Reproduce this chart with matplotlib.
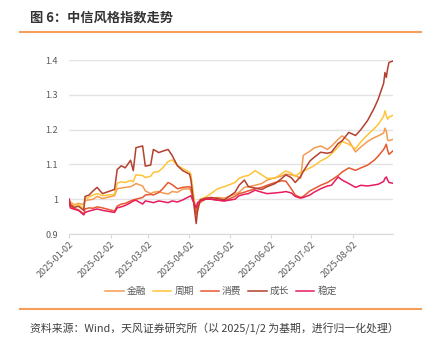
import matplotlib
matplotlib.use('Agg')
import matplotlib.pyplot as plt
import matplotlib.dates as mdates
from matplotlib.lines import Line2D
import pandas as pd

plt.rcParams['font.family'] = ['Noto Sans CJK SC', 'DejaVu Sans']

# ── data (normalised to 2025-01-02 = 1) ──────────────────────────────────────
DATES = [
    '2025-01-02', '2025-01-03', '2025-01-06', '2025-01-09', '2025-01-13',
    '2025-01-14', '2025-01-17', '2025-01-20', '2025-01-23', '2025-01-27',
    '2025-02-05', '2025-02-07', '2025-02-10', '2025-02-13', '2025-02-17',
    '2025-02-19', '2025-02-21', '2025-02-26', '2025-02-28', '2025-03-04',
    '2025-03-06', '2025-03-10', '2025-03-13', '2025-03-17', '2025-03-20',
    '2025-03-24', '2025-03-28', '2025-04-02', '2025-04-03', '2025-04-07',
    '2025-04-08', '2025-04-10', '2025-04-14', '2025-04-18', '2025-04-23',
    '2025-04-28', '2025-05-06', '2025-05-09', '2025-05-13', '2025-05-16',
    '2025-05-21', '2025-05-26', '2025-05-30', '2025-06-05', '2025-06-10',
    '2025-06-13', '2025-06-17', '2025-06-20', '2025-06-24', '2025-06-26',
    '2025-07-01', '2025-07-04', '2025-07-09', '2025-07-14', '2025-07-17',
    '2025-07-22', '2025-07-25', '2025-07-30', '2025-08-04', '2025-08-08',
    '2025-08-13', '2025-08-18', '2025-08-21', '2025-08-25', '2025-08-26',
    '2025-08-27', '2025-08-28', '2025-08-29', '2025-09-01',
]

FINANCE = [
    1.000, 0.992, 0.984, 0.988, 0.985, 0.996, 0.998, 1.000, 1.008, 1.002,
    1.010, 1.030, 1.032, 1.034, 1.036, 1.040, 1.045, 1.038, 1.024, 1.016,
    1.020, 1.022, 1.018, 1.015, 1.022, 1.020, 1.029, 1.030, 1.024, 0.966,
    0.980, 0.990, 1.000, 1.002, 1.005, 1.003, 1.014, 1.020, 1.034, 1.036,
    1.040, 1.045, 1.055, 1.062, 1.067, 1.072, 1.070, 1.068, 1.060, 1.126,
    1.138, 1.147, 1.153, 1.143, 1.152, 1.172, 1.182, 1.168, 1.136, 1.150,
    1.166, 1.177, 1.182, 1.190, 1.204, 1.196, 1.170, 1.168, 1.172,
]
CYCLE = [
    1.000, 0.990, 0.981, 0.985, 0.974, 1.000, 1.006, 1.012, 1.016, 1.010,
    1.014, 1.046, 1.050, 1.048, 1.054, 1.050, 1.070, 1.068, 1.062, 1.066,
    1.077, 1.080, 1.090, 1.108, 1.113, 1.097, 1.088, 1.078, 1.072, 0.957,
    0.985, 1.000, 1.006, 1.016, 1.030, 1.036, 1.048, 1.060, 1.066, 1.068,
    1.082, 1.070, 1.060, 1.060, 1.074, 1.081, 1.075, 1.065, 1.078, 1.080,
    1.090, 1.096, 1.110, 1.120, 1.130, 1.150, 1.166, 1.158, 1.145, 1.165,
    1.185, 1.203, 1.215, 1.238, 1.254, 1.240, 1.230, 1.236, 1.241,
]
CONSUMER = [
    1.000, 0.980, 0.973, 0.970, 0.957, 0.972, 0.975, 0.974, 0.978, 0.975,
    0.966, 0.980, 0.986, 0.988, 0.995, 0.998, 1.000, 1.005, 1.012, 1.014,
    1.012, 1.019, 1.030, 1.048, 1.042, 1.030, 1.034, 1.036, 1.032, 0.957,
    0.980, 0.995, 1.000, 1.000, 0.998, 0.995, 1.008, 1.016, 1.020, 1.024,
    1.030, 1.034, 1.040, 1.048, 1.053, 1.052, 1.030, 1.012, 1.005, 1.008,
    1.024, 1.030, 1.040, 1.048, 1.055, 1.068, 1.078, 1.090, 1.083, 1.090,
    1.098, 1.112, 1.124, 1.143, 1.150, 1.158, 1.140, 1.129, 1.139,
]
GROWTH = [
    1.000, 0.985, 0.976, 0.980, 0.968, 1.008, 1.012, 1.024, 1.034, 1.016,
    1.028, 1.085, 1.096, 1.090, 1.112, 1.082, 1.148, 1.153, 1.095, 1.098,
    1.143, 1.134, 1.138, 1.143, 1.126, 1.096, 1.082, 1.072, 1.057, 0.930,
    0.965, 0.998, 1.003, 1.005, 1.002, 0.998, 1.020, 1.040, 1.055, 1.036,
    1.032, 1.028, 1.036, 1.045, 1.060, 1.070, 1.062, 1.048, 1.065, 1.080,
    1.110, 1.120, 1.135, 1.132, 1.135, 1.160, 1.168, 1.192, 1.183, 1.200,
    1.226, 1.262, 1.288, 1.333, 1.364, 1.350, 1.375, 1.393, 1.397,
]
STABLE = [
    1.000, 0.975, 0.971, 0.968, 0.955, 0.962, 0.966, 0.969, 0.972, 0.968,
    0.962, 0.975, 0.978, 0.982, 0.990, 0.995, 0.997, 0.986, 0.995, 0.992,
    0.990, 0.995, 0.993, 0.990, 0.995, 0.992, 0.998, 1.008, 1.010, 0.975,
    0.990, 0.995, 1.000, 1.000, 0.997, 0.995, 1.000, 1.010, 1.014, 1.016,
    1.026, 1.020, 1.016, 1.018, 1.020, 1.022, 1.018, 1.008, 1.003, 1.005,
    1.012, 1.020, 1.030, 1.038, 1.040, 1.064, 1.055, 1.045, 1.034, 1.040,
    1.038, 1.041, 1.043, 1.051, 1.060, 1.064, 1.055, 1.048, 1.046,
]

SERIES_NAMES = ['金融', '周期', '消费', '成长', '稳定']
TICK_DATES = ['2025-01-02', '2025-02-02', '2025-03-02', '2025-04-02',
              '2025-05-02', '2025-06-02', '2025-07-02', '2025-08-02']
Y_TICKS = [0.9, 1.0, 1.1, 1.2, 1.3, 1.4]

TITLE = '图 6：中信风格指数走势'
SOURCE = '资料来源：Wind，天风证券研究所（以 2025/1/2 为基期，进行归一化处理）'

COLORS = ['#F49B50', '#FFC437', '#E6582F', '#B4402E', '#E81B5C']

# ── figure ───────────────────────────────────────────────────────────────────
fig = plt.figure(figsize=(4.3, 3.45), dpi=100)
ax = fig.add_axes([69 / 430, 1 - 234 / 345, (393 - 69) / 430, (234 - 60) / 345])

dates = pd.to_datetime(DATES)
values = [FINANCE, CYCLE, CONSUMER, GROWTH, STABLE]
for name, vals, color in zip(SERIES_NAMES, values, COLORS):
    ax.plot(dates, vals, color=color, lw=1.1, label=name)

ax.set_ylim(0.9, 1.4)
ax.set_yticks(Y_TICKS)
ax.yaxis.set_major_formatter(plt.FuncFormatter(lambda v, _: f'{v:g}'))
ax.set_xlim(pd.Timestamp('2025-01-02'), pd.Timestamp('2025-09-01'))
ax.set_xticks(pd.to_datetime(TICK_DATES))
ax.xaxis.set_major_formatter(mdates.DateFormatter('%Y-%m-%d'))

ax.grid(axis='y', color='#E3E3E3', lw=1.0)
ax.set_axisbelow(True)
for side in ['top', 'right', 'left']:
    ax.spines[side].set_visible(False)
ax.spines['bottom'].set_color('#D9D9D9')
ax.tick_params(axis='y', length=0, pad=8, labelsize=6.5, labelcolor='#595959')
ax.tick_params(axis='x', length=3, color='#D9D9D9', labelsize=6.5,
               labelcolor='#595959', pad=1)
for lbl in ax.get_xticklabels():
    lbl.set_rotation(45)
    lbl.set_ha('right')
    lbl.set_rotation_mode('anchor')

fig.legend(loc='center', bbox_to_anchor=(221 / 430, 1 - 291 / 345), ncol=5,
           frameon=False, fontsize=7, handlelength=1.9, handletextpad=0.3,
           columnspacing=0.7, labelcolor='#595959')

# title, rules and source note
fig.text(30 / 430, 1 - 18 / 345, TITLE, fontsize=9.5, fontweight='bold',
         color='#333333', va='center', ha='left')
for y in (32, 309):
    fig.add_artist(Line2D([20 / 430, 421 / 430], [1 - y / 345] * 2,
                          color='#F5A05A', lw=1.5))
fig.text(30 / 430, 1 - 329 / 345, SOURCE, fontsize=7.8, color='#404040',
         va='center', ha='left')

fig.savefig('out.png', dpi=100)
